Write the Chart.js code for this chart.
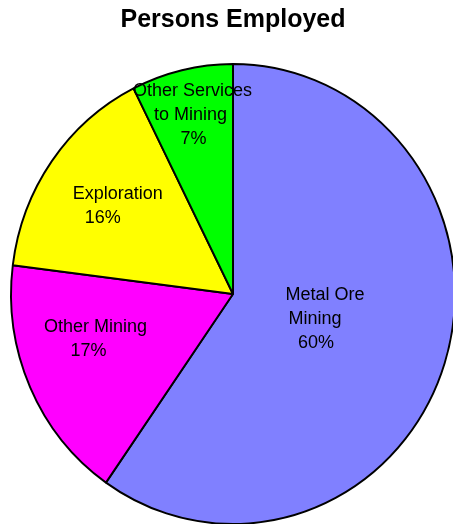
<!DOCTYPE html>
<html>
<head>
<meta charset="utf-8">
<script src="https://cdn.jsdelivr.net/npm/chart.js@4"></script>
<style>
  html, body { margin: 0; padding: 0; background: #fff; overflow: hidden; }
  #wrap { width: 453px; height: 524px; }
</style>
</head>
<body>
<div id="wrap"><canvas id="employedChart" width="453" height="524"></canvas></div>
<script>
// Chart data
const categories = ['Metal Ore Mining', 'Other Mining', 'Exploration', 'Other Services to Mining'];
const labelLines = [['Metal Ore', 'Mining'], ['Other Mining'], ['Exploration'], ['Other Services', 'to Mining']];
const shares = [59.7, 17.3, 15.6, 7.4];
const sliceColors = ['#8080FF', '#FF00FF', '#FFFF00', '#00FF00'];

(function() {
    'use strict';

    const X_SCALE = 0.965; // pie is slightly squashed sideways

    // where each label block sits: radius fraction, angle nudge (deg), per-line x nudges
    const labelPlacement = [
        { r: 0.40, turn: -3, dx: [6, -4, -3] },
        { r: 0.66, turn: 7.5, dx: [3, -4] },
        { r: 0.68, turn: 0, dx: [8, -7] },
        { r: 0.81, turn: 0, dx: [1, -1, 2] }
    ];

    const pieLabels = {
        id: 'pieLabels',
        beforeDatasetsDraw(chart) {
            const arc = chart.getDatasetMeta(0).data[0];
            const ctx = chart.ctx;
            ctx.save();
            ctx.translate(arc.x, 0);
            ctx.scale(X_SCALE, 1);
            ctx.translate(-arc.x, 0);
        },
        afterDatasetsDraw(chart) {
            const ctx = chart.ctx;
            ctx.restore();
            const arcs = chart.getDatasetMeta(0).data;
            ctx.save();
            ctx.fillStyle = '#000';
            ctx.font = '18px "Liberation Sans", Arial, sans-serif';
            ctx.textAlign = 'center';
            ctx.textBaseline = 'middle';
            const lineH = 24;
            arcs.forEach((arc, i) => {
                const p = labelPlacement[i];
                const a = (arc.startAngle + arc.endAngle) / 2 + p.turn * Math.PI / 180;
                const cx = arc.x + arc.outerRadius * X_SCALE * p.r * Math.cos(a);
                const cy = arc.y + arc.outerRadius * p.r * Math.sin(a) + 2;
                const lines = labelLines[i].concat([Math.round(shares[i]) + '%']);
                const top = cy - (lines.length - 1) * lineH / 2;
                lines.forEach((t, j) => {
                    ctx.fillText(t, cx + (p.dx[j] || 0), top + j * lineH);
                });
            });
            ctx.restore();
        }
    };

    new Chart(document.getElementById('employedChart'), {
        type: 'pie',
        data: {
            labels: categories,
            datasets: [{
                data: shares,
                backgroundColor: sliceColors,
                borderColor: '#000',
                borderWidth: 2,
                radius: 230,
                clip: false
            }]
        },
        options: {
            responsive: false,
            animation: false,
            layout: { padding: { left: 13, right: 0, top: 0, bottom: 0 } },
            plugins: {
                legend: { display: false },
                tooltip: { enabled: false },
                title: {
                    display: true,
                    text: 'Persons Employed',
                    color: '#000',
                    font: { family: '"Liberation Sans", Arial, sans-serif', size: 25, weight: 'bold' },
                    padding: { top: 5, bottom: 29 }
                }
            }
        },
        plugins: [pieLabels]
    });
})();
</script>
</body>
</html>
